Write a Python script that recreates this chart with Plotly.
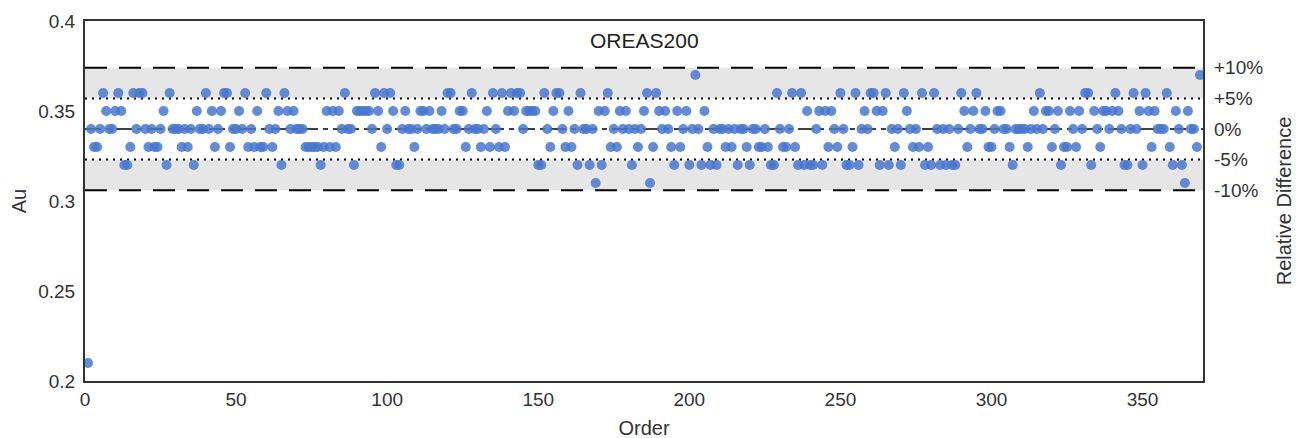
import plotly.graph_objects as go

# Au assay for standard OREAS200, in order of analysis (order 1..369)
au = [
    0.21, 0.34, 0.33, 0.33, 0.34, 0.36, 0.35, 0.34, 0.34, 0.35,
    0.36, 0.35, 0.32, 0.32, 0.33, 0.36, 0.34, 0.36, 0.36, 0.34,
    0.33, 0.34, 0.33, 0.33, 0.34, 0.35, 0.32, 0.36, 0.34, 0.34,
    0.34, 0.33, 0.34, 0.33, 0.34, 0.32, 0.35, 0.34, 0.34, 0.36,
    0.34, 0.35, 0.33, 0.34, 0.35, 0.36, 0.36, 0.33, 0.34, 0.34,
    0.35, 0.34, 0.36, 0.33, 0.34, 0.33, 0.35, 0.33, 0.33, 0.36,
    0.34, 0.33, 0.34, 0.35, 0.32, 0.36, 0.35, 0.34, 0.35, 0.34,
    0.34, 0.34, 0.33, 0.33, 0.33, 0.33, 0.33, 0.32, 0.33, 0.35,
    0.33, 0.35, 0.33, 0.35, 0.34, 0.36, 0.34, 0.34, 0.32, 0.35,
    0.35, 0.35, 0.35, 0.35, 0.34, 0.36, 0.35, 0.33, 0.36, 0.34,
    0.36, 0.35, 0.32, 0.32, 0.34, 0.35, 0.34, 0.34, 0.33, 0.34,
    0.35, 0.35, 0.34, 0.35, 0.34, 0.34, 0.34, 0.35, 0.34, 0.36,
    0.36, 0.34, 0.34, 0.35, 0.35, 0.33, 0.34, 0.36, 0.34, 0.34,
    0.33, 0.34, 0.35, 0.33, 0.36, 0.34, 0.33, 0.36, 0.33, 0.35,
    0.36, 0.35, 0.36, 0.36, 0.34, 0.35, 0.35, 0.35, 0.35, 0.32,
    0.32, 0.36, 0.34, 0.33, 0.35, 0.36, 0.36, 0.34, 0.33, 0.35,
    0.33, 0.34, 0.32, 0.36, 0.34, 0.34, 0.32, 0.34, 0.31, 0.35,
    0.32, 0.35, 0.36, 0.33, 0.34, 0.33, 0.35, 0.34, 0.35, 0.34,
    0.32, 0.34, 0.33, 0.34, 0.35, 0.36, 0.31, 0.33, 0.36, 0.35,
    0.34, 0.35, 0.34, 0.33, 0.32, 0.35, 0.33, 0.34, 0.35, 0.32,
    0.34, 0.37, 0.34, 0.32, 0.35, 0.33, 0.32, 0.34, 0.32, 0.34,
    0.34, 0.33, 0.34, 0.33, 0.34, 0.32, 0.34, 0.34, 0.33, 0.32,
    0.34, 0.34, 0.33, 0.33, 0.34, 0.33, 0.32, 0.32, 0.36, 0.34,
    0.33, 0.33, 0.34, 0.36, 0.33, 0.32, 0.36, 0.32, 0.35, 0.32,
    0.32, 0.34, 0.35, 0.32, 0.35, 0.33, 0.35, 0.34, 0.33, 0.36,
    0.34, 0.32, 0.32, 0.33, 0.36, 0.32, 0.34, 0.35, 0.34, 0.36,
    0.36, 0.35, 0.32, 0.35, 0.36, 0.32, 0.34, 0.33, 0.34, 0.32,
    0.36, 0.35, 0.34, 0.33, 0.34, 0.33, 0.36, 0.32, 0.33, 0.32,
    0.36, 0.34, 0.32, 0.34, 0.32, 0.34, 0.32, 0.32, 0.34, 0.36,
    0.35, 0.33, 0.34, 0.35, 0.36, 0.34, 0.34, 0.35, 0.33, 0.33,
    0.34, 0.35, 0.35, 0.34, 0.34, 0.33, 0.32, 0.34, 0.34, 0.34,
    0.34, 0.33, 0.34, 0.35, 0.34, 0.36, 0.34, 0.35, 0.35, 0.33,
    0.34, 0.35, 0.32, 0.33, 0.33, 0.35, 0.34, 0.33, 0.35, 0.34,
    0.36, 0.36, 0.32, 0.35, 0.34, 0.33, 0.35, 0.35, 0.34, 0.35,
    0.36, 0.35, 0.34, 0.32, 0.32, 0.34, 0.36, 0.34, 0.35, 0.32,
    0.36, 0.35, 0.33, 0.35, 0.34, 0.34, 0.34, 0.36, 0.33, 0.32,
    0.35, 0.34, 0.32, 0.31, 0.35, 0.34, 0.34, 0.33, 0.37,
]
order = list(range(1, len(au) + 1))

standard = "OREAS200"
ref_value = 0.34
pct_levels = [10, 5, 0, -5, -10]
pct_labels = ["+10%", "+5%", "0%", "-5%", "-10%"]

level_y = [ref_value * (1 + p / 100) for p in pct_levels]

FONT = "Liberation Sans, Arial, sans-serif"
AXCOL = "#333333"

fig = go.Figure()

fig.add_trace(go.Scatter(
    x=order, y=au, mode="markers",
    marker=dict(color="#4677d1", size=10, opacity=0.85, line=dict(width=0)),
    showlegend=False, cliponaxis=True,
))
# dummy trace so the right-hand axis is drawn
fig.add_trace(go.Scatter(x=[None], y=[None], yaxis="y2", showlegend=False))

# grey band +-10%, white band +-5%
fig.add_shape(type="rect", xref="paper", x0=0, x1=1, yref="y",
              y0=level_y[4], y1=level_y[0], fillcolor="#e6e6e6",
              line_width=0, layer="below")
fig.add_shape(type="rect", xref="paper", x0=0, x1=1, yref="y",
              y0=level_y[3], y1=level_y[1], fillcolor="white",
              line_width=0, layer="below")

dashes = {10: "22px,12px", 5: "2px,5px", 0: "16px,5px,5px,5px",
          -5: "2px,5px", -10: "22px,12px"}
for p, yv in zip(pct_levels, level_y):
    fig.add_shape(type="line", xref="paper", x0=0, x1=1, yref="y",
                  y0=yv, y1=yv, layer="below",
                  line=dict(color="black", width=2 if p != 0 else 1.6,
                            dash=dashes[p]))

fig.add_annotation(text=standard, xref="paper", yref="paper", x=0.5, y=0.945,
                   yanchor="middle", showarrow=False,
                   font=dict(size=21, color="#222"))

# page body adds an 8px offset, margins are compensated for it
fig.update_layout(
    width=1307, height=438,
    margin=dict(l=77, r=112, t=13, b=65),
    paper_bgcolor="white", plot_bgcolor="white",
    font=dict(family=FONT, size=19, color="#333"),
    xaxis=dict(range=[0, 370], tickvals=[0, 50, 100, 150, 200, 250, 300, 350],
               showgrid=False, zeroline=False, showline=True, mirror=True,
               linecolor=AXCOL, linewidth=2, ticks="", automargin=False,
               title=dict(text="Order", standoff=12, font=dict(size=20))),
    yaxis=dict(range=[0.2, 0.4], tickvals=[0.2, 0.25, 0.3, 0.35, 0.4],
               ticktext=["0.2", "0.25", "0.3", "0.35", "0.4"],
               showgrid=False, zeroline=False, showline=True, mirror=True,
               linecolor=AXCOL, linewidth=2, ticks="", automargin=False,
               ticklabelstandoff=4,
               title=dict(text="Au", standoff=14, font=dict(size=20))),
    yaxis2=dict(range=[0.2, 0.4], overlaying="y", side="right",
                tickvals=level_y, ticktext=pct_labels, automargin=False,
                showgrid=False, zeroline=False, showline=False, ticks="",
                ticklabelstandoff=10,
                title=dict(text="Relative Difference", standoff=14,
                           font=dict(size=20))),
)

fig.write_html("out.html")
